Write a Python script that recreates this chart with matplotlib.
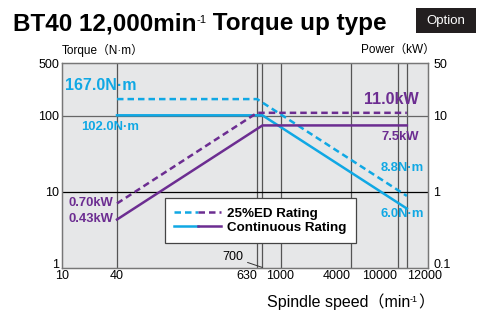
import matplotlib
matplotlib.use("Agg")
import matplotlib.pyplot as plt
import numpy as np
from matplotlib.legend_handler import HandlerTuple
from matplotlib.patches import Rectangle
from matplotlib.transforms import ScaledTranslation

plt.rcParams["font.family"] = ["Liberation Sans", "Noto Sans CJK JP", "DejaVu Sans"]

BLUE = "#10a8e4"
PURPLE = "#6c2d91"
BG = "#e6e7e8"
GRID = "#555555"

# spindle speed (min-1) corner points of each curve
speed_ed = [40, 630, 12000]
speed_cont = [40, 700, 12000]
torque_ed = [167.0, 167.0, 8.8]      # N·m, 25%ED
torque_cont = [102.0, 102.0, 6.0]    # N·m, continuous
power_ed = [0.70, 11.0, 11.0]        # kW, 25%ED
power_cont = [0.43, 7.5, 7.5]        # kW, continuous

grid_speeds = [40, 630, 700, 1000, 4000, 10000, 12000]
xtick_speeds = [10, 40, 630, 1000, 4000, 10000, 12000]
xtick_align = ["center", "center", "right", "center", "right", "right", "left"]
torque_ticks = [1, 10, 100, 500]
power_ticks = [0.1, 1, 10, 50]

W, H = 479, 313


# the catalogue axis: log from 40 upward, 10..40 squeezed
def fwd(n):
    n = np.clip(np.asarray(n, float), 1e-6, None)
    lo = np.log10(n / 10) / np.log10(4) * 55
    hi = 55 + np.log10(n / 40) * 117
    return np.where(n < 40, lo, hi)


def inv(p):
    p = np.asarray(p, float)
    lo = 10 * 4 ** (p / 55)
    hi = 40 * 10 ** ((p - 55) / 117)
    return np.where(p < 55, lo, hi)


fig = plt.figure(figsize=(W / 100, H / 100), dpi=100)
renderer = fig.canvas.get_renderer()
ax = fig.add_axes([62 / W, 1 - 267.5 / H, 366 / W, 204.5 / H])
ax.set_facecolor(BG)
ax.set_xscale("function", functions=(fwd, inv))
ax.set_xlim(10, inv(366))
ax.set_yscale("log")
ax.set_ylim(1, 500)

ax2 = ax.twinx()
ax2.set_yscale("log")
ax2.set_ylim(0.1, 50)

for s in grid_speeds:
    ax.axvline(s, color=GRID, lw=0.9, zorder=1)
ax.axhline(100, color="#666666", lw=0.9, zorder=1)
ax.axhline(10, color="black", lw=0.9, zorder=1)

dash = (0, (2.6, 1.6))
lb_ed, = ax.plot(speed_ed, torque_ed, color=BLUE, lw=1.8, ls=dash, zorder=3)
lb_c, = ax.plot(speed_cont, torque_cont, color=BLUE, lw=1.8, zorder=3)
lp_ed, = ax2.plot(speed_ed, power_ed, color=PURPLE, lw=1.8, ls=dash, zorder=3)
lp_c, = ax2.plot(speed_cont, power_cont, color=PURPLE, lw=1.8, zorder=3)

ax.set_yticks(torque_ticks)
ax.set_yticklabels([str(t) for t in torque_ticks])
ax.yaxis.set_minor_locator(plt.NullLocator())
ax2.set_yticks(power_ticks)
ax2.set_yticklabels([f"{t:g}" for t in power_ticks])
ax2.yaxis.set_minor_locator(plt.NullLocator())
ax.set_xticks(xtick_speeds)
ax.set_xticklabels([str(s) for s in xtick_speeds])
ax.xaxis.set_minor_locator(plt.NullLocator())
for lab, ha in zip(ax.get_xticklabels(), xtick_align):
    lab.set_ha(ha)
ax.tick_params(axis="both", length=0, labelsize=9, pad=2)
ax2.tick_params(axis="both", length=0, labelsize=9, pad=4)

# lowest y labels sit a little above the bottom edge
lift = ScaledTranslation(0, 4 / 100, fig.dpi_scale_trans)
for a in (ax, ax2):
    lab = a.get_yticklabels()[0]
    lab.set_transform(lab.get_transform() + lift)

for a in (ax, ax2):
    for sp in a.spines.values():
        sp.set_color("#777777")
        sp.set_linewidth(0.9)

# legend with two-colour handles
leg = ax.legend(
    [(lb_ed, lp_ed), (lb_c, lp_c)],
    ["25%ED Rating", "Continuous Rating"],
    handler_map={tuple: HandlerTuple(ndivide=None, pad=0)},
    loc="lower left", bbox_to_anchor=(0.281, 0.118),
    prop={"weight": "bold", "size": 9.6},
    handlelength=3.5, handletextpad=0.45, labelspacing=0.1,
    borderpad=0.72, borderaxespad=0, fancybox=False, framealpha=1,
    edgecolor="#444444",
)
leg.get_frame().set_linewidth(0.9)
leg.set_zorder(5)

ax.annotate("700", xy=(700, 1), xytext=(-19, 10), textcoords="offset pixels",
            ha="right", va="center", fontsize=9,
            arrowprops=dict(arrowstyle="-", lw=0.7, color="#333333",
                            shrinkA=1, shrinkB=0))


def px(x, y):
    return x / W, 1 - y / H


def label(x, y, s, color, size, ha="left"):
    fig.text(*px(x, y), s, color=color, fontsize=size, fontweight="bold",
             ha=ha, va="center")


def rich(x, y, parts, ha="left"):
    """Baseline-aligned pieces: (text, size, rise_px, weight)."""
    texts = []
    cx = x
    for s, size, rise, weight in parts:
        t = fig.text(*px(cx, y - rise), s, fontsize=size, fontweight=weight,
                     ha="left", va="baseline")
        cx += t.get_window_extent(renderer).width
        texts.append(t)
    if ha == "right":
        shift = cx - x
        for t in texts:
            tx, ty = t.get_position()
            t.set_position((tx - shift / W, ty))


label(65, 86, "167.0N·m", BLUE, 11.5)
label(81, 127, "102.0N·m", BLUE, 9.4)
label(419, 99, "11.0kW", PURPLE, 11.6, ha="right")
label(419, 137, "7.5kW", PURPLE, 9.4, ha="right")
label(424, 168, "8.8N·m", BLUE, 9.4, ha="right")
label(424, 214, "6.0N·m", BLUE, 9.4, ha="right")
label(113, 203, "0.70kW", PURPLE, 9.4, ha="right")
label(113, 219, "0.43kW", PURPLE, 9.4, ha="right")

rich(13, 30, [("BT40 12,000min", 17.5, 0, "bold"), ("-1", 8, 7, "normal"),
              (" Torque up type", 17.5, 0, "bold")])
fig.patches.append(Rectangle(px(416, 33), 60 / W, 25 / H, transform=fig.transFigure,
                             facecolor="#231f20", edgecolor="none"))
fig.text(*px(446, 21), "Option", color="white", fontsize=9.5, ha="center", va="center")

fig.text(*px(62, 50), "Torque（N·m）", fontsize=8.5, ha="left", va="center")
fig.text(*px(435, 50), "Power（kW）", fontsize=8.5, ha="right", va="center")
rich(434, 307, [("Spindle speed（min", 11.5, 0, "normal"), ("-1", 6.5, 5, "normal"),
                ("）", 11.5, 0, "normal")], ha="right")

fig.savefig("out.png", dpi=100)
